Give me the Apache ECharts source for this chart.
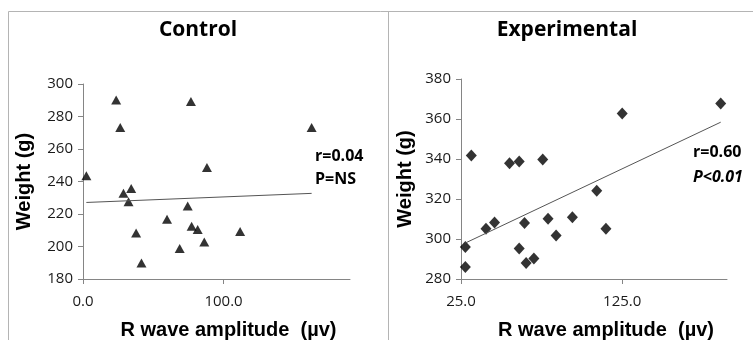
<!DOCTYPE html>
<html>
<head>
<meta charset="utf-8">
<script src="https://cdn.jsdelivr.net/npm/echarts@6/dist/echarts.min.js"></script>
<style>
html, body { margin: 0; padding: 0; background: #fff; }
#chart { width: 753px; height: 340px; }
</style>
</head>
<body>
<div id="chart"></div>
<script>
// Control group: R wave amplitude (µv) vs body weight (g)
const controlAmp = [23.6, 76.8, 26.5, 88.2, 2.4, 34.3, 28.8, 32.4, 74.5, 59.8, 77.3, 81.6, 37.8, 86.3, 68.8, 41.6, 162.7, 111.8]
const controlWeight = [290.2, 289.2, 273.2, 248.6, 243.5, 235.7, 232.7, 227.5, 224.9, 216.7, 212.4, 210.5, 208.3, 202.8, 198.7, 189.9, 273.2, 209.3]
const controlTrendX = [2.4, 162.7]
const controlTrendY = [227.1, 232.7]

// Experimental group
const expAmp = [31.4, 55.1, 61.1, 75.7, 109.2, 45.8, 40.5, 64.4, 79.0, 94.1, 84.0, 27.7, 61.1, 65.4, 70.2, 27.7, 114.9, 125.0, 186.1]
const expWeight = [341.7, 337.9, 338.7, 339.7, 324.1, 308.3, 305.1, 308.0, 310.1, 310.9, 301.8, 296.0, 295.3, 288.0, 290.3, 286.0, 305.1, 362.7, 367.7]
const expTrendX = [27.7, 186.1]
const expTrendY = [298.0, 358.4]

const controlXTicks = [0, 100]
const expXTicks = [25, 125]

const pairs = (xs, ys) => xs.map((x, i) => [x, ys[i]])

const axisColor = '#858585'
const labelFont = 'Open Sans'
const nameFont = 'Liberation Sans'

const makeXAxis = (gridIndex, min, ticks) => ({
  type: 'value',
  gridIndex: gridIndex,
  min: min,
  max: 190,
  name: 'R wave amplitude  (µv)',
  nameLocation: 'middle',
  nameGap: 41,
  nameTextStyle: { fontFamily: nameFont, fontWeight: 'bold', fontSize: 20, color: '#000', padding: [0, 0, 0, 24] },
  axisLine: { lineStyle: { color: axisColor, width: 1 } },
  axisTick: { show: true, length: 5, customValues: ticks, lineStyle: { color: axisColor } },
  axisLabel: {
    customValues: ticks,
    margin: 15,
    fontFamily: labelFont,
    fontSize: 15,
    color: '#1a1a1a',
    formatter: v => v.toFixed(1)
  },
  splitLine: { show: false }
})

const makeYAxis = (gridIndex, min, max, gap) => ({
  type: 'value',
  gridIndex: gridIndex,
  min: min,
  max: max,
  interval: 20,
  name: 'Weight (g)',
  nameLocation: 'middle',
  nameGap: gap,
  nameTextStyle: { fontFamily: nameFont, fontWeight: 'bold', fontSize: 20, color: '#000' },
  axisLine: { show: true, lineStyle: { color: axisColor, width: 1 } },
  axisTick: { show: true, length: 5, lineStyle: { color: axisColor } },
  axisLabel: { margin: 10, fontFamily: labelFont, fontSize: 15, color: '#1a1a1a' },
  splitLine: { show: false }
})

const noteText = (x, y, text, italic) => ({
  type: 'text',
  x: x,
  y: y,
  style: {
    text: text,
    fontFamily: labelFont,
    fontWeight: 'bold',
    fontStyle: italic ? 'italic' : 'normal',
    fontSize: 16,
    fill: '#000',
    verticalAlign: 'middle'
  }
})

const titleText = (x, text) => ({
  type: 'text',
  x: x,
  y: 30,
  style: {
    text: text,
    fontFamily: labelFont,
    fontWeight: 'bold',
    fontSize: 21,
    fill: '#000',
    align: 'center',
    verticalAlign: 'middle'
  }
})

const frameLine = (x1, y1, x2, y2) => ({
  type: 'line',
  shape: { x1: x1, y1: y1, x2: x2, y2: y2 },
  style: { stroke: '#b4b4b4', lineWidth: 1 }
})

const chart = echarts.init(document.getElementById('chart'))

const option = {
  animation: false,
  backgroundColor: '#fff',
  grid: [
    { left: 83, top: 84, width: 267, height: 195, outerBoundsMode: 'none', containLabel: false },
    { left: 461, top: 79, width: 266, height: 200, outerBoundsMode: 'none', containLabel: false }
  ],
  xAxis: [
    makeXAxis(0, 0, controlXTicks),
    makeXAxis(1, 25, expXTicks)
  ],
  yAxis: [
    makeYAxis(0, 180, 300, 49),
    makeYAxis(1, 280, 380, 46)
  ],
  series: [
    {
      type: 'scatter',
      xAxisIndex: 0,
      yAxisIndex: 0,
      symbol: 'triangle',
      symbolSize: [10, 9],
      itemStyle: { color: '#000' },
      data: pairs(controlAmp, controlWeight)
    },
    {
      type: 'line',
      xAxisIndex: 0,
      yAxisIndex: 0,
      showSymbol: false,
      lineStyle: { color: '#555', width: 1 },
      data: pairs(controlTrendX, controlTrendY)
    },
    {
      type: 'scatter',
      xAxisIndex: 1,
      yAxisIndex: 1,
      symbol: 'diamond',
      symbolSize: [11, 12],
      itemStyle: { color: '#000' },
      data: pairs(expAmp, expWeight)
    },
    {
      type: 'line',
      xAxisIndex: 1,
      yAxisIndex: 1,
      showSymbol: false,
      lineStyle: { color: '#555', width: 1 },
      data: pairs(expTrendX, expTrendY)
    }
  ],
  graphic: [
    frameLine(8.5, 11.5, 753, 11.5),
    frameLine(8.5, 11.5, 8.5, 340),
    frameLine(388.5, 11.5, 388.5, 340),
    titleText(198, 'Control'),
    titleText(567, 'Experimental'),
    noteText(315, 156, 'r=0.04', false),
    noteText(315, 179, 'P=NS', false),
    noteText(693, 152, 'r=0.60', false),
    noteText(693, 177, 'P<0.01', true)
  ]
}

chart.setOption(option)
</script>
</body>
</html>
